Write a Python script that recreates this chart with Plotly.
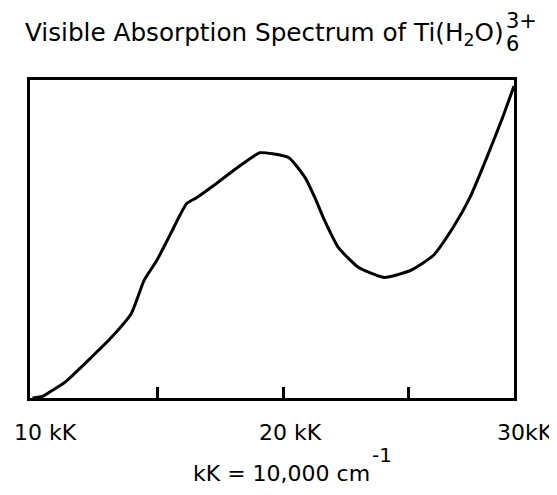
import plotly.graph_objects as go

# Data
wavenumber_kK = [10.0, 10.4, 10.63, 11.30, 12.36, 13.15, 13.94, 14.45, 14.96, 15.51,
                 16.14, 16.54, 17.32, 18.11, 19.06, 19.57, 20.24, 20.87, 21.26, 21.65,
                 22.20, 22.99, 24.02, 25.08, 25.98, 26.77, 27.44, 28.11, 28.74, 29.2]
absorbance = [0.0, 0.005, 0.016, 0.05, 0.129, 0.191, 0.266, 0.370, 0.433, 0.517,
              0.611, 0.630, 0.674, 0.721, 0.771, 0.768, 0.755, 0.693, 0.630, 0.558,
              0.473, 0.411, 0.379, 0.401, 0.448, 0.536, 0.630, 0.755, 0.881, 0.981]
tick_values = [15, 20, 25]
tick_labels = ["10 kK", "20 kK", "30kK"]
tick_label_pos = [0.031, 0.538, 1.022]   # paper x positions of the labels

FONT = "DejaVu Sans"

fig = go.Figure()
fig.add_trace(go.Scatter(
    x=wavenumber_kK, y=absorbance, mode="lines",
    line=dict(color="black", width=3, shape="spline", smoothing=0.5),
    hoverinfo="skip", showlegend=False,
))

# the page body adds an 8px margin, so the figure is 8px smaller
fig.update_layout(
    width=549, height=487,
    margin=dict(l=22, r=43, t=72, b=97, autoexpand=False),
    paper_bgcolor="white", plot_bgcolor="white",
    showlegend=False,
    font=dict(family=FONT, color="black"),
)
fig.update_xaxes(
    range=[9.9, 29.2], showgrid=False, zeroline=False,
    showline=True, linecolor="black", linewidth=3, mirror=True,
    tickmode="array", tickvals=tick_values, ticktext=["", "", ""],
    ticks="inside", ticklen=11, tickwidth=2.5, tickcolor="black",
    showticklabels=False,
)
fig.update_yaxes(
    range=[0, 1], showgrid=False, zeroline=False,
    showline=True, linecolor="black", linewidth=3, mirror=True,
    showticklabels=False, ticks="",
)

ann = []
# tick labels
for lab, xp in zip(tick_labels, tick_label_pos):
    ann.append(dict(text=lab, x=xp, y=-0.107, xref="paper", yref="paper",
                    xanchor="center", yanchor="middle", showarrow=False,
                    font=dict(family=FONT, size=22, color="black")))
# axis title (with a large raised exponent)
ann.append(dict(text="kK = 10,000 cm", x=0.333, y=-0.236,
                xref="paper", yref="paper", xanchor="left", yanchor="middle",
                showarrow=False, font=dict(family=FONT, size=22, color="black")))
ann.append(dict(text="-1", x=0.703, y=-0.178,
                xref="paper", yref="paper", xanchor="left", yanchor="middle",
                showarrow=False, font=dict(family=FONT, size=20, color="black")))
# chart title
ann.append(dict(text="Visible Absorption Spectrum of Ti(H<sub>2</sub>O)",
                x=-0.0145, y=1.146, xref="paper", yref="paper",
                xanchor="left", yanchor="middle", showarrow=False,
                font=dict(family=FONT, size=24.7, color="black")))
ann.append(dict(text="3+", x=0.979, y=1.186, xref="paper", yref="paper",
                xanchor="left", yanchor="middle", showarrow=False,
                font=dict(family=FONT, size=21, color="black")))
ann.append(dict(text="6", x=0.979, y=1.112, xref="paper", yref="paper",
                xanchor="left", yanchor="middle", showarrow=False,
                font=dict(family=FONT, size=21, color="black")))
fig.update_layout(annotations=ann)

fig.write_html("out.html")
